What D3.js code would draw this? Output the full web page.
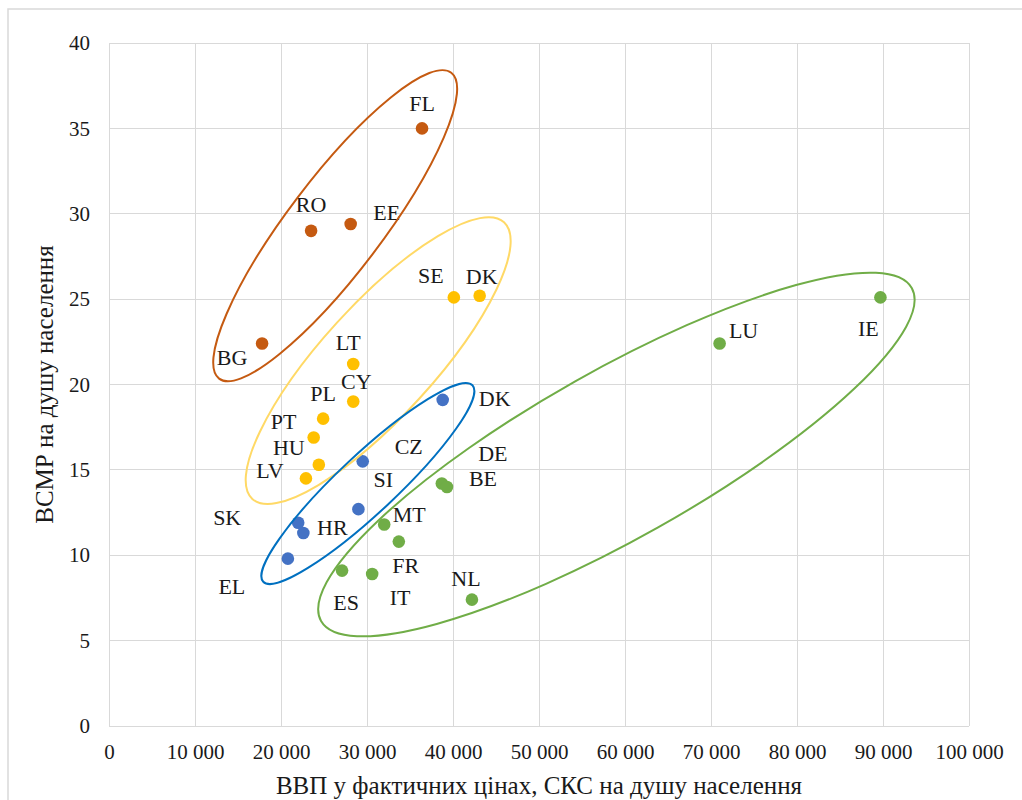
<!DOCTYPE html>
<html>
<head>
<meta charset="utf-8">
<script src="https://cdn.jsdelivr.net/npm/d3@7"></script>
<style>
  html, body { margin: 0; padding: 0; background: #fff; }
  svg { display: block; }
  text { font-family: "Liberation Serif", "Times New Roman", serif; fill: #1a1a1a; }
</style>
</head>
<body>
<svg id="chart" width="1022" height="800"></svg>
<script>
// ---- data ----
const countries = ["FL","RO","EE","BG","SE","DK","LT","CY","PL","PT","HU","LV","DK","CZ","SI","SK","HR","EL","DE","BE","MT","FR","ES","IT","NL","LU","IE"];
const gdpPPS   = [36400,23500,28100,17800,40100,43100,28400,28400,24900,23800,24400,22900,38800,29500,29000,22000,22600,20800,38700,39300,32000,33700,27100,30600,42200,71000,89700];
const vsmr     = [35.0,29.0,29.4,22.4,25.1,25.2,21.2,19.0,18.0,16.9,15.3,14.5,19.1,15.5,12.7,11.9,11.3,9.8,14.2,14.0,11.8,10.8,9.1,8.9,7.4,22.4,25.1];
const cluster  = [0,0,0,0,1,1,1,1,1,1,1,1,2,2,2,2,2,2,3,3,3,3,3,3,3,3,3];
const xTicks = [0,10000,20000,30000,40000,50000,60000,70000,80000,90000,100000];
const yTicks = [0,5,10,15,20,25,30,35,40];
const xTitle = "ВВП у фактичних цінах, СКС на душу населення";
const yTitle = "ВСМР на душу населення";
// cluster ellipses: centre in data units
const ellipseCx = [26300,31300,30100,59000];
const ellipseCy = [29.3,21.4,14.2,15.9];

// ---- layout / style ----
const pointColors   = ["#C55A11","#FFC000","#4472C4","#70AD47"];
const ellipseColors = ["#C55A11","#FFD966","#0070C0","#70AD47"];
const ellipseShape  = [ {a:192,b:47,ang:52.8}, {a:187,b:56,ang:47.7}, {a:143.5,b:29,ang:43.2}, {a:339,b:84,ang:29.4} ];
const labelOffsets = [[0,-25],[0,-26],[36,-11],[-30,14],[-23,-22],[2,-19],[-5,-22],[3,-20],[0,-25],[-30,-16],[-30,-17],[-36,-8],
                      [52,-1],[46,-15],[25,-30],[-71,-5],[29,-6],[-56,28],[51,-30],[36,-8],[25,-10],[7,24],[4,32],[28,23],[-6,-21],[24,-13],[-12,31]];

const svg = d3.select("#chart");
const L = 109, R = 969, T = 43, B = 726;

// outer chart border
svg.append("rect").attr("x",8).attr("y",9).attr("width",1030).attr("height",820)
  .attr("fill","#fff").attr("stroke","#d9d9d9").attr("stroke-width",1.5);

const x = d3.scaleLinear().domain([0,100000]).range([L,R]);
const y = d3.scaleLinear().domain([0,40]).range([B,T]);
const loc = d3.formatLocale({decimal:",", thousands:" ", grouping:[3], currency:["",""]});
const fmt = loc.format(",d");

// gridlines
const g = svg.append("g");
g.selectAll("line.vx").data(xTicks).join("line")
  .attr("x1",d=>x(d)).attr("x2",d=>x(d)).attr("y1",T).attr("y2",B)
  .attr("stroke","#d9d9d9").attr("stroke-width",1).attr("shape-rendering","crispEdges");
g.selectAll("line.hy").data(yTicks).join("line")
  .attr("x1",L).attr("x2",R).attr("y1",d=>y(d)).attr("y2",d=>y(d))
  .attr("stroke","#d9d9d9").attr("stroke-width",1).attr("shape-rendering","crispEdges");

// axes (tick labels only)
const xAxis = d3.axisBottom(x).tickValues(xTicks).tickFormat(fmt).tickSize(0).tickPadding(18);
const yAxis = d3.axisLeft(y).tickValues(yTicks).tickFormat(d3.format("d")).tickSize(0).tickPadding(19);
const gx = svg.append("g").attr("transform",`translate(0,${B})`).call(xAxis);
const gy = svg.append("g").attr("transform",`translate(${L},0)`).call(yAxis);
[gx,gy].forEach(a=>{ a.select(".domain").remove(); a.selectAll("text").style("font-size","21px").style("font-family","Liberation Serif").attr("fill","#1a1a1a"); });
gx.selectAll("text").attr("dy","0.71em");

// points
const idx = d3.range(countries.length);
svg.append("g").selectAll("circle").data(idx).join("circle")
  .attr("cx",i=>x(gdpPPS[i])).attr("cy",i=>y(vsmr[i])).attr("r",6.3)
  .attr("fill",i=>pointColors[cluster[i]]);

// labels
svg.append("g").selectAll("text").data(idx).join("text")
  .attr("x",i=>x(gdpPPS[i])+labelOffsets[i][0])
  .attr("y",i=>y(vsmr[i])+labelOffsets[i][1])
  .attr("text-anchor","middle").attr("dominant-baseline","central")
  .style("font-size","22px").text(i=>countries[i]);

// cluster ellipses (drawn on top like Excel shapes)
svg.append("g").selectAll("ellipse").data(d3.range(ellipseCx.length)).join("ellipse")
  .attr("transform",k=>`translate(${x(ellipseCx[k])},${y(ellipseCy[k])}) rotate(${-ellipseShape[k].ang})`)
  .attr("rx",k=>ellipseShape[k].a).attr("ry",k=>ellipseShape[k].b)
  .attr("fill","none").attr("stroke",k=>ellipseColors[k]).attr("stroke-width",2);

// axis titles
svg.append("text").attr("x",(L+R)/2).attr("y",794).attr("text-anchor","middle")
  .style("font-size","25px").text(xTitle);
svg.append("text").attr("transform",`translate(53,${(T+B)/2}) rotate(-90)`).attr("text-anchor","middle")
  .style("font-size","25px").text(yTitle);
</script>
</body>
</html>
